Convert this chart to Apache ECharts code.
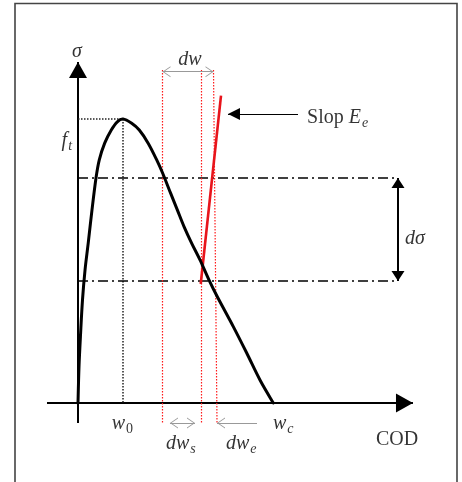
<!DOCTYPE html>
<html><head><meta charset="utf-8">
<script src="https://cdn.jsdelivr.net/npm/echarts@6/dist/echarts.min.js"></script>
<style>html,body{margin:0;padding:0;background:#fff}#c{width:462px;height:482px}</style>
</head><body><div id="c"></div>
<script>
// ---- data (COD w in units of w0, stress sigma in units of ft) ----
const curveW     = [0, 0.022, 0.058, 0.10, 0.156, 0.227, 0.311, 0.40, 0.473, 0.593, 0.74, 0.873, 1.0,
                    1.193, 1.362, 1.562, 1.749, 1.882, 2.06, 2.207, 2.356, 2.527, 2.711, 2.918, 3.096,
                    3.451, 3.749, 4.044, 4.34];
const curveSigma = [0, 0.127, 0.246, 0.363, 0.468, 0.563, 0.68, 0.792, 0.856, 0.915, 0.961, 0.99, 1.0,
                    0.985, 0.961, 0.914, 0.856, 0.809, 0.738, 0.68, 0.621, 0.562, 0.504, 0.431, 0.374,
                    0.269, 0.176, 0.081, 0];
const w0 = 1.0, ft = 1.0, wc = 4.34;
const sigmaLevels = [0.792, 0.43];            // upper / lower dash-dot stress levels
const wMarks = [1.878, 2.733, 3.011];         // red dotted crack-opening marks (top)
const wMarksBottom = [1.878, 2.733, 3.089];   // same marks at bottom
const slopeSeg = [[2.727, 0.419], [3.178, 1.082]];
const axisW = [-0.689, 7.444];
const axisSigma = [-0.0704, 1.2007];

// ---- layout helpers ----
const PXW = 45, PXS = 284, OX = 78, OY = 403, W = 462, H = 482;
const FONT = 'Liberation Serif';
const TRI = 'path://M50,0 L50.2,0 L50,0.2 Z M50,50 L100,100 L0,100 Z';
const CHEV = 'path://M50,0 L50.2,0 L50,0.2 Z M50,50 L100,100 L91,100 L50,59 L9,100 L0,100 Z';
const topY = 1.1725, botY = -0.0704, dwY = 1.1666;

function seg(a, b, fromSym, toSym, fromSize, toSize) {
  return {coords: [a, b], symbol: [fromSym || 'none', toSym || 'none'],
          symbolSize: [fromSize || 1, toSize || 1]};
}
function linesSeries(data, ls) {
  return {type: 'lines', coordinateSystem: 'cartesian2d', polyline: false, silent: true,
          lineStyle: Object.assign({opacity: 1, curveness: 0}, ls), data: data, z: 3};
}

// smooth curve through the data points (Catmull-Rom -> cubic Bezier), in screen space
function renderCurve(params, api) {
  if (params.dataIndex !== 0) return null;
  const p = curveW.map((w, k) => api.coord([w, curveSigma[k]]));
  const n = p.length;
  let d = 'M' + p[0][0] + ',' + p[0][1];
  for (let i = 0; i < n - 1; i++) {
    const a = p[Math.max(i - 1, 0)], b = p[i], c = p[i + 1], e = p[Math.min(i + 2, n - 1)];
    const c1 = [b[0] + (c[0] - a[0]) / 6, b[1] + (c[1] - a[1]) / 6];
    const c2 = [c[0] - (e[0] - b[0]) / 6, c[1] - (e[1] - b[1]) / 6];
    d += 'C' + c1[0] + ',' + c1[1] + ' ' + c2[0] + ',' + c2[1] + ' ' + c[0] + ',' + c[1];
  }
  return {type: 'path', shape: {pathData: d},
          style: {fill: 'none', stroke: '#000', lineWidth: 3, lineJoin: 'round', lineCap: 'round'}};
}

const rich = {
  i: {fontFamily: FONT, fontStyle: 'italic', fontSize: 20, color: '#000'},
  r: {fontFamily: FONT, fontSize: 20, color: '#000'},
  s: {fontFamily: FONT, fontStyle: 'italic', fontSize: 14, color: '#000', padding: [12, 0, 0, 1]},
  s0: {fontFamily: FONT, fontSize: 14, color: '#000', padding: [12, 0, 0, 1]}
};
const labels = [
  ['{i|σ}', -0.022, 1.236, 'center'],
  ['{i|f}{s|t}', -0.133, 0.925, 'right'],
  ['{i|dw}', 2.489, 1.208, 'center'],
  ['{r|Slop }{i|E}{s|e}', 5.089, 1.005, 'left'],
  ['{i|dσ}', 7.267, 0.579, 'left'],
  ['{i|w}{s0|0}', 0.749, -0.072, 'left'],
  ['{i|w}{s|c}', 4.333, -0.072, 'left'],
  ['{i|dw}{s|s}', 1.956, -0.143, 'left'],
  ['{i|dw}{s|e}', 3.289, -0.143, 'left'],
  ['{r|COD}', 7.089, -0.130, 'center']
];

const option = {
  animation: false,
  grid: {left: 0, right: 0, top: 0, bottom: 0},
  xAxis: {type: 'value', min: -OX / PXW, max: (W - OX) / PXW, show: false},
  yAxis: {type: 'value', min: -(H - OY) / PXS, max: OY / PXS, show: false},
  graphic: [{type: 'rect', shape: {x: 15, y: 3.5, width: 442, height: 520},
             style: {fill: 'none', stroke: '#444', lineWidth: 1.6}, z: 100}],
  series: [
    linesSeries([
      seg([0, axisSigma[0]], [0, axisSigma[1]], 'none', TRI, 1, [18, 32]),
      seg([axisW[0], 0], [axisW[1], 0], 'none', TRI, 1, [19, 34])
    ], {color: '#000', width: 2}),
    linesSeries([
      seg([0, ft], [w0, ft]), seg([w0, ft], [w0, 0])
    ], {color: '#222', width: 1.5, type: [1.5, 1.5]}),
    linesSeries(sigmaLevels.map(s => seg([0, s], [7.111, s])),
      {color: '#000', width: 1.5, type: [10, 4, 2, 4]}),
    linesSeries(wMarks.map((w, k) => seg([w, topY], [wMarksBottom[k], botY])),
      {color: '#ff1a1a', width: 1.2, type: [1.5, 1.5]}),
    linesSeries([seg(slopeSeg[0], slopeSeg[1])], {color: '#e8141b', width: 2.6}),
    linesSeries([
      seg([wMarks[0], dwY], [wMarks[2], dwY], CHEV, CHEV, [11, 16], [11, 16]),
      seg([2.044, botY], [2.6, botY], CHEV, CHEV, [11, 16], [11, 16]),
      seg([3.978, botY], [wMarksBottom[2], botY], 'none', CHEV, 1, [11, 16])
    ], {color: '#999', width: 1}),
    linesSeries([seg([7.111, sigmaLevels[0]], [7.111, sigmaLevels[1]], TRI, TRI, [13, 20], [13, 20])],
      {color: '#000', width: 2}),
    linesSeries([seg([4.889, 1.0176], [3.333, 1.0176], 'none', TRI, 1, [12, 24])],
      {color: '#000', width: 1.2}),
    {type: 'custom', renderItem: renderCurve, silent: true, z: 4,
     data: curveW.map((w, k) => [w, curveSigma[k]])},
    {type: 'scatter', symbolSize: 0, silent: true, z: 5,
     data: labels.map(l => ({value: [l[1], l[2]],
       label: {show: true, position: [0, 0], align: l[3], verticalAlign: 'middle',
               formatter: l[0], rich: rich}}))}
  ]
};
const chart = echarts.init(document.getElementById('c'));
chart.setOption(option);
</script></body></html>
